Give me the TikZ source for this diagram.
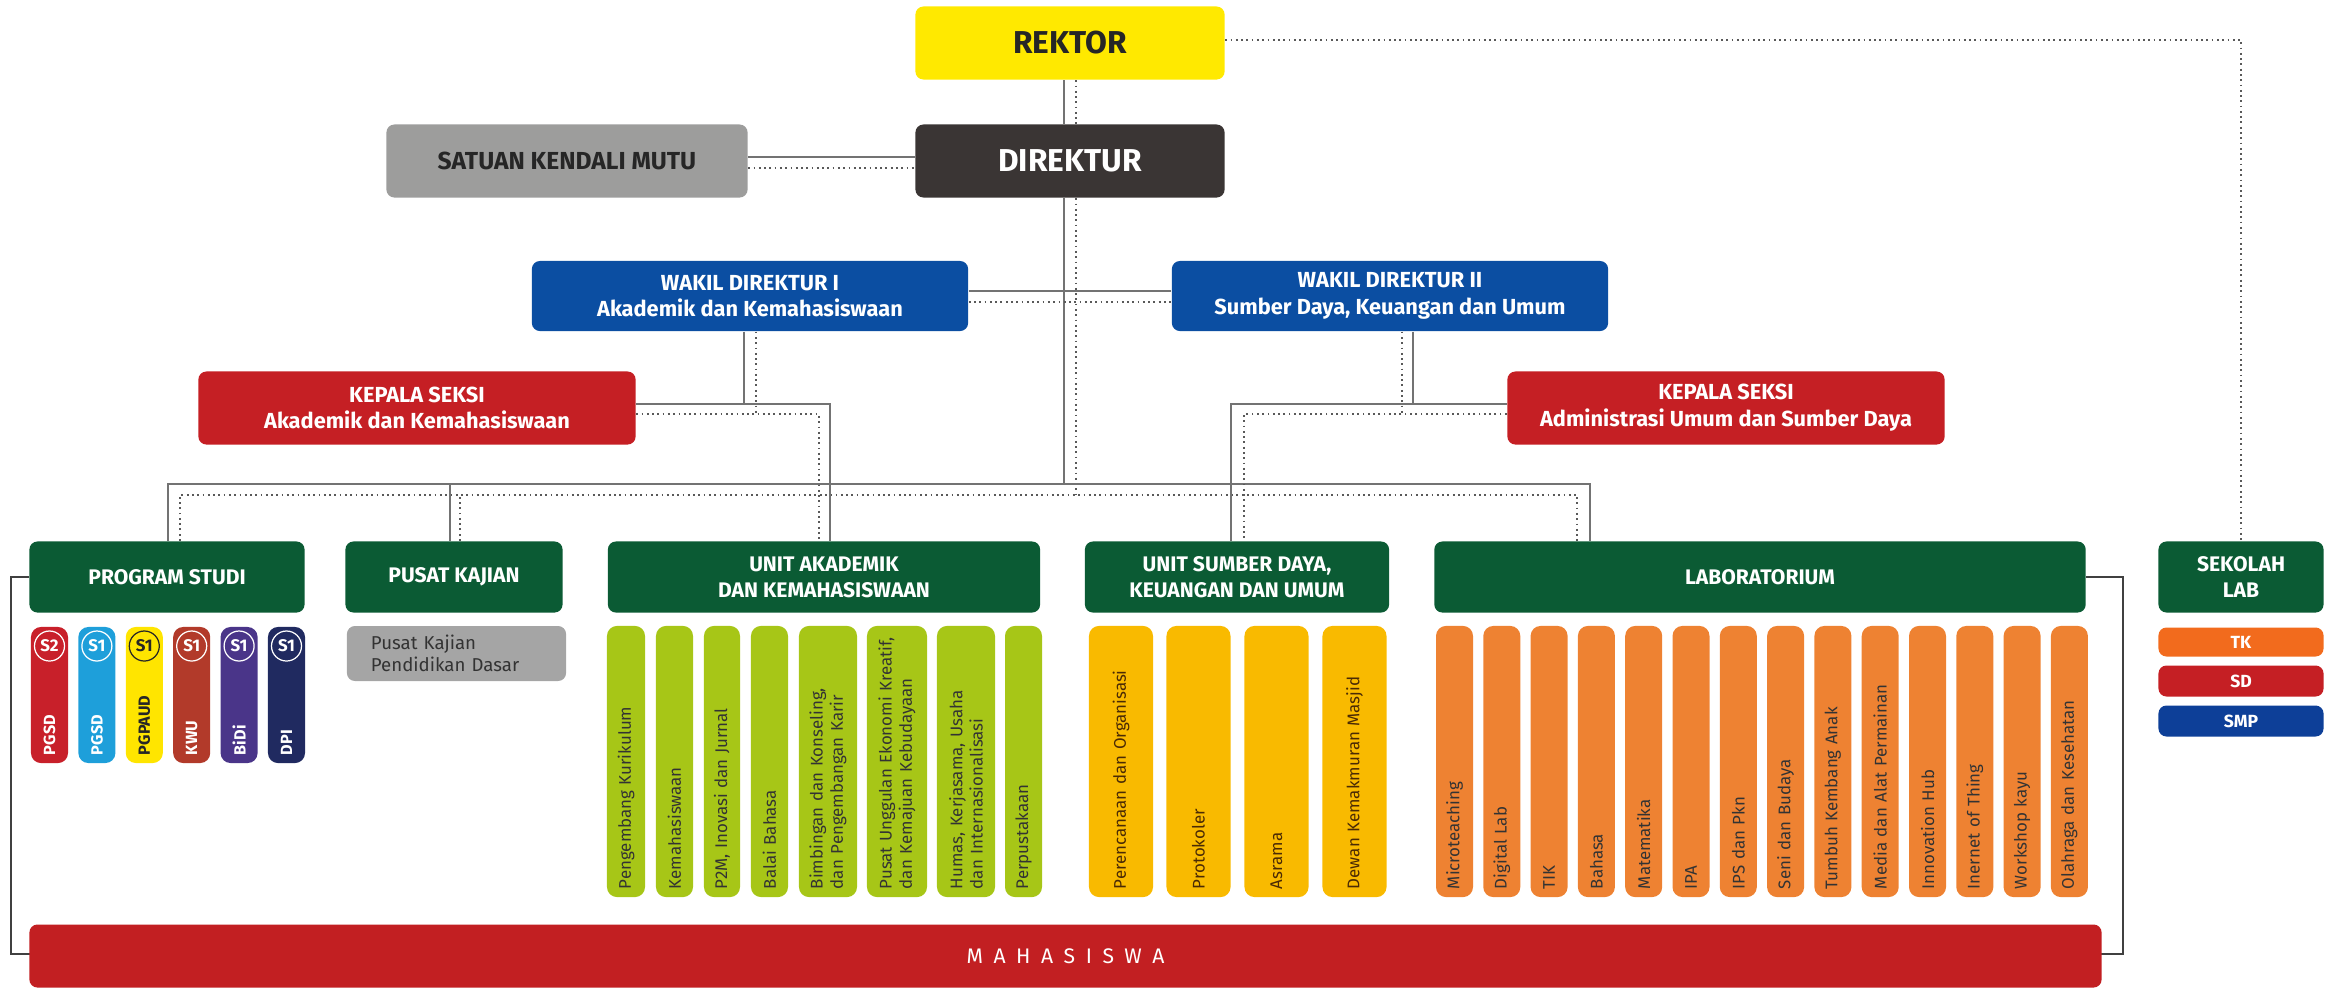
\documentclass[tikz,border=0pt]{standalone}
\usepackage{fontspec}
\setmainfont{Fira Sans}
\newfontfamily\spacedfont{Fira Sans}[LetterSpace=50]
\usetikzlibrary{positioning, calc, backgrounds}
\definecolor{rektorYel}{HTML}{FFE900}
\definecolor{direkGray}{HTML}{3A3534}
\definecolor{mutuGray}{HTML}{9D9D9C}
\definecolor{wakilBlue}{HTML}{0B4EA2}
\definecolor{kasieRed}{HTML}{C51F24}
\definecolor{unitGreen}{HTML}{0B5B34}
\definecolor{limeGreen}{HTML}{A7C617}
\definecolor{sdYellow}{HTML}{F9BA00}
\definecolor{labOrange}{HTML}{EE8232}
\definecolor{kajianGray}{HTML}{A5A5A5}
\definecolor{tkOrange}{HTML}{F26B1D}
\definecolor{smpBlue}{HTML}{0D3F98}
\definecolor{mhsRed}{HTML}{C21F22}
\definecolor{pgsdRed}{HTML}{C8202A}
\definecolor{pgsdSky}{HTML}{1E9FDA}
\definecolor{paudYel}{HTML}{FFE500}
\definecolor{kwuBrown}{HTML}{B23A2A}
\definecolor{bidiPurple}{HTML}{4A3589}
\definecolor{dpiNavy}{HTML}{202A60}
\definecolor{brownText}{HTML}{4A2A05}
\tikzset{
  orgbox/.style={rounded corners=0.08cm, inner sep=0pt, align=center, text=white},
  topbox/.style={orgbox, minimum width=3.09cm, minimum height=0.73cm, font=\fontsize{9}{10}\selectfont\bfseries},
  wakilbox/.style={orgbox, fill=wakilBlue, minimum width=4.36cm, minimum height=0.70cm, font=\fontsize{6.2}{7.6}\selectfont\bfseries},
  kasiebox/.style={orgbox, fill=kasieRed, minimum width=4.37cm, minimum height=0.73cm, font=\fontsize{6.2}{7.6}\selectfont\bfseries},
  unithead/.style={orgbox, fill=unitGreen, minimum height=0.71cm, font=\fontsize{6}{7.4}\selectfont\bfseries},
  vpill/.style={rotate=90, rounded corners=0.1cm, inner ysep=0pt, inner xsep=0.08cm, align=left},
  unitpill/.style={vpill, minimum width=2.71cm, text width=2.55cm, font=\fontsize{4.8}{5.8}\selectfont},
  prodipill/.style={vpill, minimum width=1.36cm, text width=1.2cm, minimum height=0.37cm, font=\fontsize{4.6}{5.5}\selectfont\bfseries},
  degring/.style={circle, line width=0.35pt, minimum size=0.30cm, inner sep=0pt, font=\fontsize{4.8}{5}\selectfont\bfseries},
  schoolbox/.style={orgbox, minimum width=1.65cm, font=\fontsize{5}{6}\selectfont\bfseries},
  solidln/.style={draw=black!55, line width=0.45pt},
  dotln/.style={draw=black!65, line width=0.5pt, densely dotted},
  frameln/.style={draw=black!75, line width=0.5pt},
}

\begin{document}
\begin{tikzpicture}[x=0.01cm, y=-0.01cm]
  \useasboundingbox (0,0) rectangle (2336,990);

  % pimpinan
  \node[topbox, fill=rektorYel, text=black!85] (rektor) at (1070,43) {REKTOR};
  \node[topbox, fill=direkGray] (direktur) at (1070,161) {DIREKTUR};
  \node[orgbox, fill=mutuGray, text=black!85, minimum width=3.61cm, minimum height=0.73cm, font=\fontsize{7}{8}\selectfont\bfseries] (skm) at (567,161) {SATUAN KENDALI MUTU};

  \node[wakilbox] (wd1) at (750,296) {WAKIL DIREKTUR I\\Akademik dan Kemahasiswaan};
  \node[wakilbox] (wd2) at (1390,296) {WAKIL DIREKTUR II\\Sumber Daya, Keuangan dan Umum};

  \node[kasiebox] (ks1) at (417,408) {KEPALA SEKSI\\Akademik dan Kemahasiswaan};
  \node[kasiebox] (ks2) at (1726,408) {KEPALA SEKSI\\Administrasi Umum dan Sumber Daya};

  % unit
  \node[unithead, minimum width=2.75cm] (prodi) at (167,577) {PROGRAM STUDI};
  \node[unithead, minimum width=2.17cm] (pusat) at (454,577) {PUSAT KAJIAN};
  \node[unithead, minimum width=4.32cm] (unitak) at (824,577) {UNIT AKADEMIK\\DAN KEMAHASISWAAN};
  \node[unithead, minimum width=3.04cm] (unitsd) at (1237,577) {UNIT SUMBER DAYA,\\KEUANGAN DAN UMUM};
  \node[unithead, minimum width=6.51cm] (lab) at (1760,577) {LABORATORIUM};
  \node[unithead, minimum width=1.65cm] (seklab) at (2241,577) {SEKOLAH\\LAB};

  % program studi
  \foreach \x/\col/\tc/\deg/\nm [count=\i] in {49.5/pgsdRed/white/S2/PGSD, 96.9/pgsdSky/white/S1/PGSD,
      144.3/paudYel/black!85/S1/PGPAUD, 191.7/kwuBrown/white/S1/KWU,
      239.1/bidiPurple/white/S1/BiDi, 286.5/dpiNavy/white/S1/DPI}{
    \node[prodipill, fill=\col, text=\tc] (ps\i) at (\x,695) {\nm};
    \node[degring, draw=\tc, text=\tc] (deg\i) at (\x,646) {\deg};
  }

  \node[orgbox, fill=kajianGray, text=black!80, minimum width=2.19cm, minimum height=0.55cm,
    text width=1.71cm, align=left, font=\fontsize{5.3}{6.4}\selectfont] (kajian) at (456.5,653.5) {Pusat Kajian\\Pendidikan Dasar};

  % unit akademik
  \foreach \x/\w/\txt [count=\i] in {626/0.38/Pengembang Kurikulum, 674.5/0.37/Kemahasiswaan,
      722/0.36/{P2M, Inovasi dan Jurnal}, 769.5/0.37/Balai Bahasa,
      828/0.58/{Bimbingan dan Konseling,\\dan Pengembangan Karir},
      897/0.60/{Pusat Unggulan Ekonomi Kreatif,\\dan Kemajuan Kebudayaan},
      966/0.58/{Humas, Kerjasama, Usaha\\dan Internasionalisasi}, 1023.5/0.37/Perpustakaan}
    \node[unitpill, fill=limeGreen, text=black!80, minimum height=\w cm] (ak\i) at (\x,761.5) {\txt};

  % unit sumber daya
  \foreach \x/\txt [count=\i] in {1121/Perencanaan dan Organisasi, 1198.5/Protokoler,
      1276.5/Asrama, 1354.5/Dewan Kemakmuran Masjid}
    \node[unitpill, fill=sdYellow, text=brownText, minimum height=0.64cm] (sd\i) at (\x,761.5) {\txt};

  % laboratorium
  \foreach \txt [count=\i from 0] in {Microteaching, Digital Lab, TIK, Bahasa, Matematika, IPA,
      IPS dan Pkn, Seni dan Budaya, Tumbuh Kembang Anak, Media dan Alat Permainan,
      Innovation Hub, Inernet of Thing, Workshop kayu, Olahraga dan Kesehatan}
    \node[unitpill, fill=labOrange, text=black!80, minimum height=0.37cm] (lb\i) at (1454.5+47.3*\i,761.5) {\txt};

  % sekolah lab
  \node[schoolbox, fill=tkOrange, minimum height=0.29cm] (tk) at (2241,642) {TK};
  \node[schoolbox, fill=kasieRed, minimum height=0.31cm] (sd) at (2241,681) {SD};
  \node[schoolbox, fill=smpBlue, minimum height=0.31cm] (smp) at (2241,721) {SMP};

  \node[orgbox, fill=mhsRed, minimum width=20.71cm, minimum height=0.63cm, font=\fontsize{6}{7}\spacedfont] (mhs) at (1065.5,956) {MAHASISWA};

  \coordinate (frameBL) at (11,954);
  \coordinate (frameBR) at (2123,954);

  \begin{scope}[on background layer]
    \draw[dotln] ($(rektor.east)+(0,-3)$) -| (seklab.north);
    \draw[solidln] ($(rektor.south)+(-6,0)$) -- ($(direktur.north)+(-6,0)$);
    \draw[dotln] ($(rektor.south)+(6,0)$) -- ($(direktur.north)+(6,0)$);
    \draw[solidln] ($(direktur.south)+(-6,0)$) -- ++(0,286.5);
    \draw[dotln] ($(direktur.south)+(6,0)$) -- ++(0,297);
    \draw[solidln] ($(skm.east)+(0,-4)$) -- ($(direktur.west)+(0,-4)$);
    \draw[dotln] ($(skm.east)+(0,7)$) -- ($(direktur.west)+(0,7)$);
    \draw[solidln] ($(wd1.east)+(0,-5)$) -- ($(wd2.west)+(0,-5)$);
    \draw[dotln] ($(wd1.east)+(0,6)$) -- ($(wd2.west)+(0,6)$);

    \draw[solidln] ($(prodi.north)+(1,0)$) |- ($(lab.north)+(-170,-57)$) -- ($(lab.north)+(-170,0)$);
    \draw[dotln] ($(prodi.north)+(13,0)$) |- ($(lab.north)+(-183,-46)$) -- ($(lab.north)+(-183,0)$);
    \draw[solidln] ($(pusat.north)+(-4,0)$) -- ++(0,-57);
    \draw[dotln] ($(pusat.north)+(6,0)$) -- ++(0,-46);

    \draw[solidln] ($(ks1.east)+(0,-4)$) -| ($(unitak.north)+(6,0)$);
    \draw[dotln] ($(ks1.east)+(0,6)$) -| ($(unitak.north)+(-5,0)$);
    \draw[solidln] ($(wd1.south)+(-6,0)$) -- ++(0,73);
    \draw[dotln] ($(wd1.south)+(6,0)$) -- ++(0,83);

    \draw[solidln] ($(ks2.west)+(0,-4)$) -| ($(unitsd.north)+(-6,0)$);
    \draw[dotln] ($(ks2.west)+(0,6)$) -| ($(unitsd.north)+(7,0)$);
    \draw[solidln] ($(wd2.south)+(23,0)$) -- ++(0,73);
    \draw[dotln] ($(wd2.south)+(12,0)$) -- ++(0,83);

    \draw[frameln] (prodi.west) -| (frameBL) -- (frameBR) |- (lab.east);
  \end{scope}
\end{tikzpicture}
\end{document}
